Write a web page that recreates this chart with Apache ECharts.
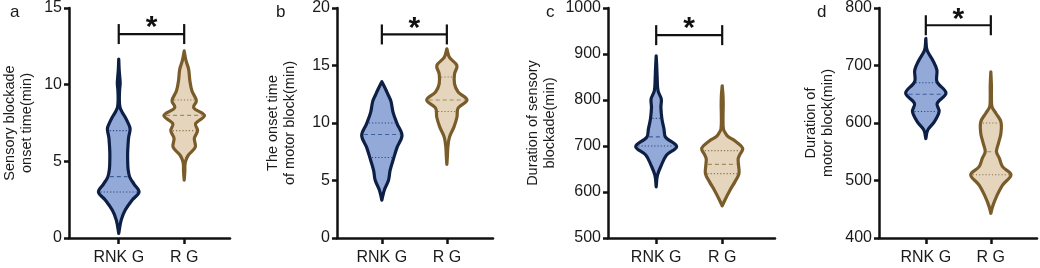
<!DOCTYPE html>
<html>
<head>
<meta charset="utf-8">
<script src="https://cdn.jsdelivr.net/npm/echarts@6/dist/echarts.min.js"></script>
<style>
html,body{margin:0;padding:0;background:#fff;}
#chart{width:1040px;height:268px;}
</style>
</head>
<body>
<div id="chart"></div>
<script>
// ---------------- DATA ----------------
const categories = ['RNK G', 'R G'];
const panelLetters = ['a', 'b', 'c', 'd'];
const yTitles = [
  'Sensory blockade\nonset time(min)',
  'The onset time\nof motor block(min)',
  'Duration of sensory\nblockade(min)',
  'Duration of\nmotor block(min)'
];
const yMins = [0, 0, 500, 400];
const yMaxs = [15, 20, 1000, 800];
const yIntervals = [5, 5, 100, 100];

// violin density profiles: values along y, relative half-widths (0..1)
const aRnkValues = [0.3, 1.17, 1.82, 2.47, 3.0, 3.5, 3.98, 4.5, 5.07, 5.6, 6.1, 6.58, 7.12, 7.5, 7.88, 8.2, 8.53, 9.0, 9.6, 10.1, 10.5, 11.0, 11.67];
const aRnkWidths = [0, 0.12, 0.32, 0.66, 1.0, 0.76, 0.54, 0.46, 0.44, 0.44, 0.46, 0.49, 0.56, 0.46, 0.32, 0.17, 0.06, 0.03, 0.04, 0.07, 0.05, 0.02, 0];
const aRgValues = [3.77, 4.3, 4.8, 5.06, 5.4, 5.93, 6.5, 7.0, 7.45, 7.99, 8.5, 8.96, 9.6, 10.26, 11.0, 11.56, 12.2];
const aRgWidths = [0, 0.03, 0.04, 0.08, 0.2, 0.55, 0.5, 0.66, 0.56, 1.0, 0.47, 0.6, 0.38, 0.28, 0.22, 0.09, 0];

const bRnkValues = [3.29, 4.16, 5.02, 5.89, 6.9, 7.9, 8.92, 9.93, 10.9, 11.9, 12.5, 13.0, 13.6];
const bRnkWidths = [0, 0.12, 0.33, 0.41, 0.58, 0.76, 1.0, 0.76, 0.56, 0.45, 0.3, 0.17, 0];
const bRgValues = [6.4, 7.2, 7.9, 8.77, 9.64, 10.5, 11.3, 12.0, 12.7, 13.4, 14.26, 15.0, 15.7, 16.45];
const bRgWidths = [0, 0.03, 0.05, 0.13, 0.35, 0.5, 0.56, 1.0, 0.56, 0.38, 0.38, 0.5, 0.13, 0];

const cRnkValues = [611, 636, 658, 680, 699, 719, 737, 759, 784, 802, 820, 846, 870, 896];
const cRnkWidths = [0, 0.06, 0.25, 0.5, 1.0, 0.46, 0.38, 0.28, 0.23, 0.25, 0.09, 0.05, 0.03, 0];
const cRgValues = [570, 586, 604, 622, 640, 658, 672, 680, 695, 712, 720, 727, 737, 760, 790, 810, 831];
const cRgWidths = [0, 0.17, 0.38, 0.62, 0.82, 0.8, 0.78, 0.85, 1.0, 0.6, 0.3, 0.17, 0.06, 0.04, 0.05, 0.04, 0];

const dRnkValues = [573, 588, 602, 620, 634, 652, 672, 692, 710, 727, 747];
const dRnkWidths = [0, 0.1, 0.42, 0.66, 0.56, 1.0, 0.55, 0.55, 0.33, 0.06, 0];
const dRgValues = [443, 455, 472, 492, 510, 524, 539, 550, 565, 582, 602, 617, 628, 645, 665, 689];
const dRgWidths = [0, 0.09, 0.28, 0.58, 1.0, 0.58, 0.42, 0.28, 0.38, 0.5, 0.5, 0.25, 0.06, 0.03, 0.03, 0];

// quartiles: [Q1, median, Q3]
const aRnkQuart = [3, 4, 7];
const aRgQuart = [7, 8, 9];
const bRnkQuart = [7, 9, 10];
const bRgQuart = [11, 12, 14];
const cRnkQuart = [700, 720, 760];
const cRgQuart = [640, 660, 690];
const dRnkQuart = [620, 650, 670];
const dRgQuart = [510, 550, 600];

// significance bracket level per panel
const sigValues = [13.3, 17.7, 941, 770];
const sigLabels = ['*', '*', '*', '*'];

// ---------------- LAYOUT / STYLE ----------------
const grids = [
  {left: 68, top: 7, width: 162, height: 231},
  {left: 337, top: 7, width: 156, height: 231},
  {left: 608, top: 7, width: 167, height: 231},
  {left: 879, top: 8, width: 158, height: 230}
];
const xRanges = [[0.24, 2.70], [0.31, 2.71], [0.27, 2.80], [0.28, 2.71]];
const nameGaps = [34, 39, 50, 43];
const letterPos = [[10, 4], [276, 4], [546, 4], [817, 4]];
const VW = 0.31; // max half width in category units
const groupStyles = [
  {stroke: '#0e1f45', fill: '#93aad8', med: '#3f5e9e', q: '#2c4680'},
  {stroke: '#7a5c2a', fill: '#e4d5bc', med: '#a48b62', q: '#8d7650'}
];
const FONT = '"Liberation Sans", Arial, sans-serif';

const profiles = [
  [{v: aRnkValues, w: aRnkWidths, q: aRnkQuart}, {v: aRgValues, w: aRgWidths, q: aRgQuart}],
  [{v: bRnkValues, w: bRnkWidths, q: bRnkQuart}, {v: bRgValues, w: bRgWidths, q: bRgQuart}],
  [{v: cRnkValues, w: cRnkWidths, q: cRnkQuart}, {v: cRgValues, w: cRgWidths, q: cRgQuart}],
  [{v: dRnkValues, w: dRnkWidths, q: dRnkQuart}, {v: dRgValues, w: dRgWidths, q: dRgQuart}]
];

function widthAt(p, val) {
  for (let i = 0; i < p.v.length - 1; i++) {
    if (val >= p.v[i] && val <= p.v[i + 1]) {
      const t = (val - p.v[i]) / (p.v[i + 1] - p.v[i]);
      return p.w[i] + t * (p.w[i + 1] - p.w[i]);
    }
  }
  return 0;
}

function violinRenderer(panelIdx) {
  return function (params, api) {
    const gi = params.dataIndex;
    const p = profiles[panelIdx][gi];
    const st = groupStyles[gi];
    const xc = api.value(0);
    const right = [], left = [];
    for (let i = 0; i < p.v.length; i++) {
      right.push(api.coord([xc + p.w[i] * VW, p.v[i]]));
      left.push(api.coord([xc - p.w[i] * VW, p.v[i]]));
    }
    const pts = right.concat(left.reverse());
    const children = [{
      type: 'polygon',
      shape: {points: pts, smooth: 0.35},
      style: {fill: st.fill, stroke: st.stroke, lineWidth: 3.2, lineJoin: 'round'},
      z2: 1
    }];
    p.q.forEach(function (qv, k) {
      const hw = widthAt(p, qv) * VW;
      const a = api.coord([xc - hw, qv]);
      const b = api.coord([xc + hw, qv]);
      children.push({
        type: 'line',
        shape: {x1: a[0] + 2, y1: a[1], x2: b[0] - 2, y2: b[1]},
        style: {stroke: k === 1 ? st.med : st.q, lineWidth: 1.2, lineDash: k === 1 ? [4, 3] : [1.2, 2]},
        z2: 2
      });
    });
    return {type: 'group', children: children};
  };
}

function sigRenderer(params, api) {
  const p1 = api.coord([api.value(0), api.value(2)]);
  const p2 = api.coord([api.value(1), api.value(2)]);
  const s = {stroke: '#111', lineWidth: 2.2};
  return {
    type: 'group',
    children: [
      {type: 'line', shape: {x1: p1[0], y1: p1[1], x2: p2[0], y2: p2[1]}, style: s},
      {type: 'line', shape: {x1: p1[0], y1: p1[1] - 10, x2: p1[0], y2: p1[1] + 10}, style: s},
      {type: 'line', shape: {x1: p2[0], y1: p2[1] - 10, x2: p2[0], y2: p2[1] + 10}, style: s},
      {type: 'text', style: {text: sigLabels[params.seriesIndex % 4] , x: (p1[0] + p2[0]) / 2, y: p1[1] - 6,
        font: 'bold 30px ' + FONT, fill: '#111', align: 'center', verticalAlign: 'middle'}}
    ]
  };
}

const option = {
  animation: false,
  backgroundColor: '#fff',
  grid: grids.map(g => Object.assign({containLabel: false}, g)),
  xAxis: grids.map((g, i) => ({
    type: 'value', gridIndex: i, min: xRanges[i][0], max: xRanges[i][1],
    splitLine: {show: false},
    axisLine: {show: true, lineStyle: {color: '#111', width: 2.5}},
    axisTick: {show: true, length: 6, lineStyle: {color: '#111', width: 2.5}, customValues: [1, 2]},
    axisLabel: {show: true, customValues: [1, 2], margin: 12, color: '#1a1a1a', fontSize: 16, fontFamily: FONT,
      formatter: v => categories[Math.round(v) - 1] || ''}
  })),
  yAxis: grids.map((g, i) => ({
    type: 'value', gridIndex: i, min: yMins[i], max: yMaxs[i], interval: yIntervals[i],
    splitLine: {show: false},
    axisLine: {show: true, lineStyle: {color: '#111', width: 2.5}},
    axisTick: {show: true, length: 5, lineStyle: {color: '#111', width: 2.5}},
    axisLabel: {margin: 7, color: '#1a1a1a', fontSize: 16, fontFamily: FONT, formatter: v => String(v)},
    name: yTitles[i], nameLocation: 'middle', nameGap: nameGaps[i], nameRotate: 90,
    nameTextStyle: {fontSize: 14.5, fontFamily: FONT, color: '#1a1a1a', lineHeight: 17, align: 'center'}
  })),
  graphic: panelLetters.map((t, i) => ({
    type: 'text', left: letterPos[i][0], top: letterPos[i][1],
    style: {text: t, font: '17px ' + FONT, fill: '#1a1a1a'}
  })),
  series: []
};

for (let i = 0; i < 4; i++) {
  option.series.push({
    type: 'custom', xAxisIndex: i, yAxisIndex: i,
    renderItem: violinRenderer(i),
    data: [[1], [2]],
    encode: {x: 0, y: -1}
  });
}
for (let i = 0; i < 4; i++) {
  option.series.push({
    type: 'custom', xAxisIndex: i, yAxisIndex: i,
    renderItem: sigRenderer,
    data: [[1, 2, sigValues[i]]],
    encode: {x: [0, 1], y: 2}
  });
}

const chart = echarts.init(document.getElementById('chart'), null, {renderer: 'canvas'});
chart.setOption(option);
</script>
</body>
</html>
